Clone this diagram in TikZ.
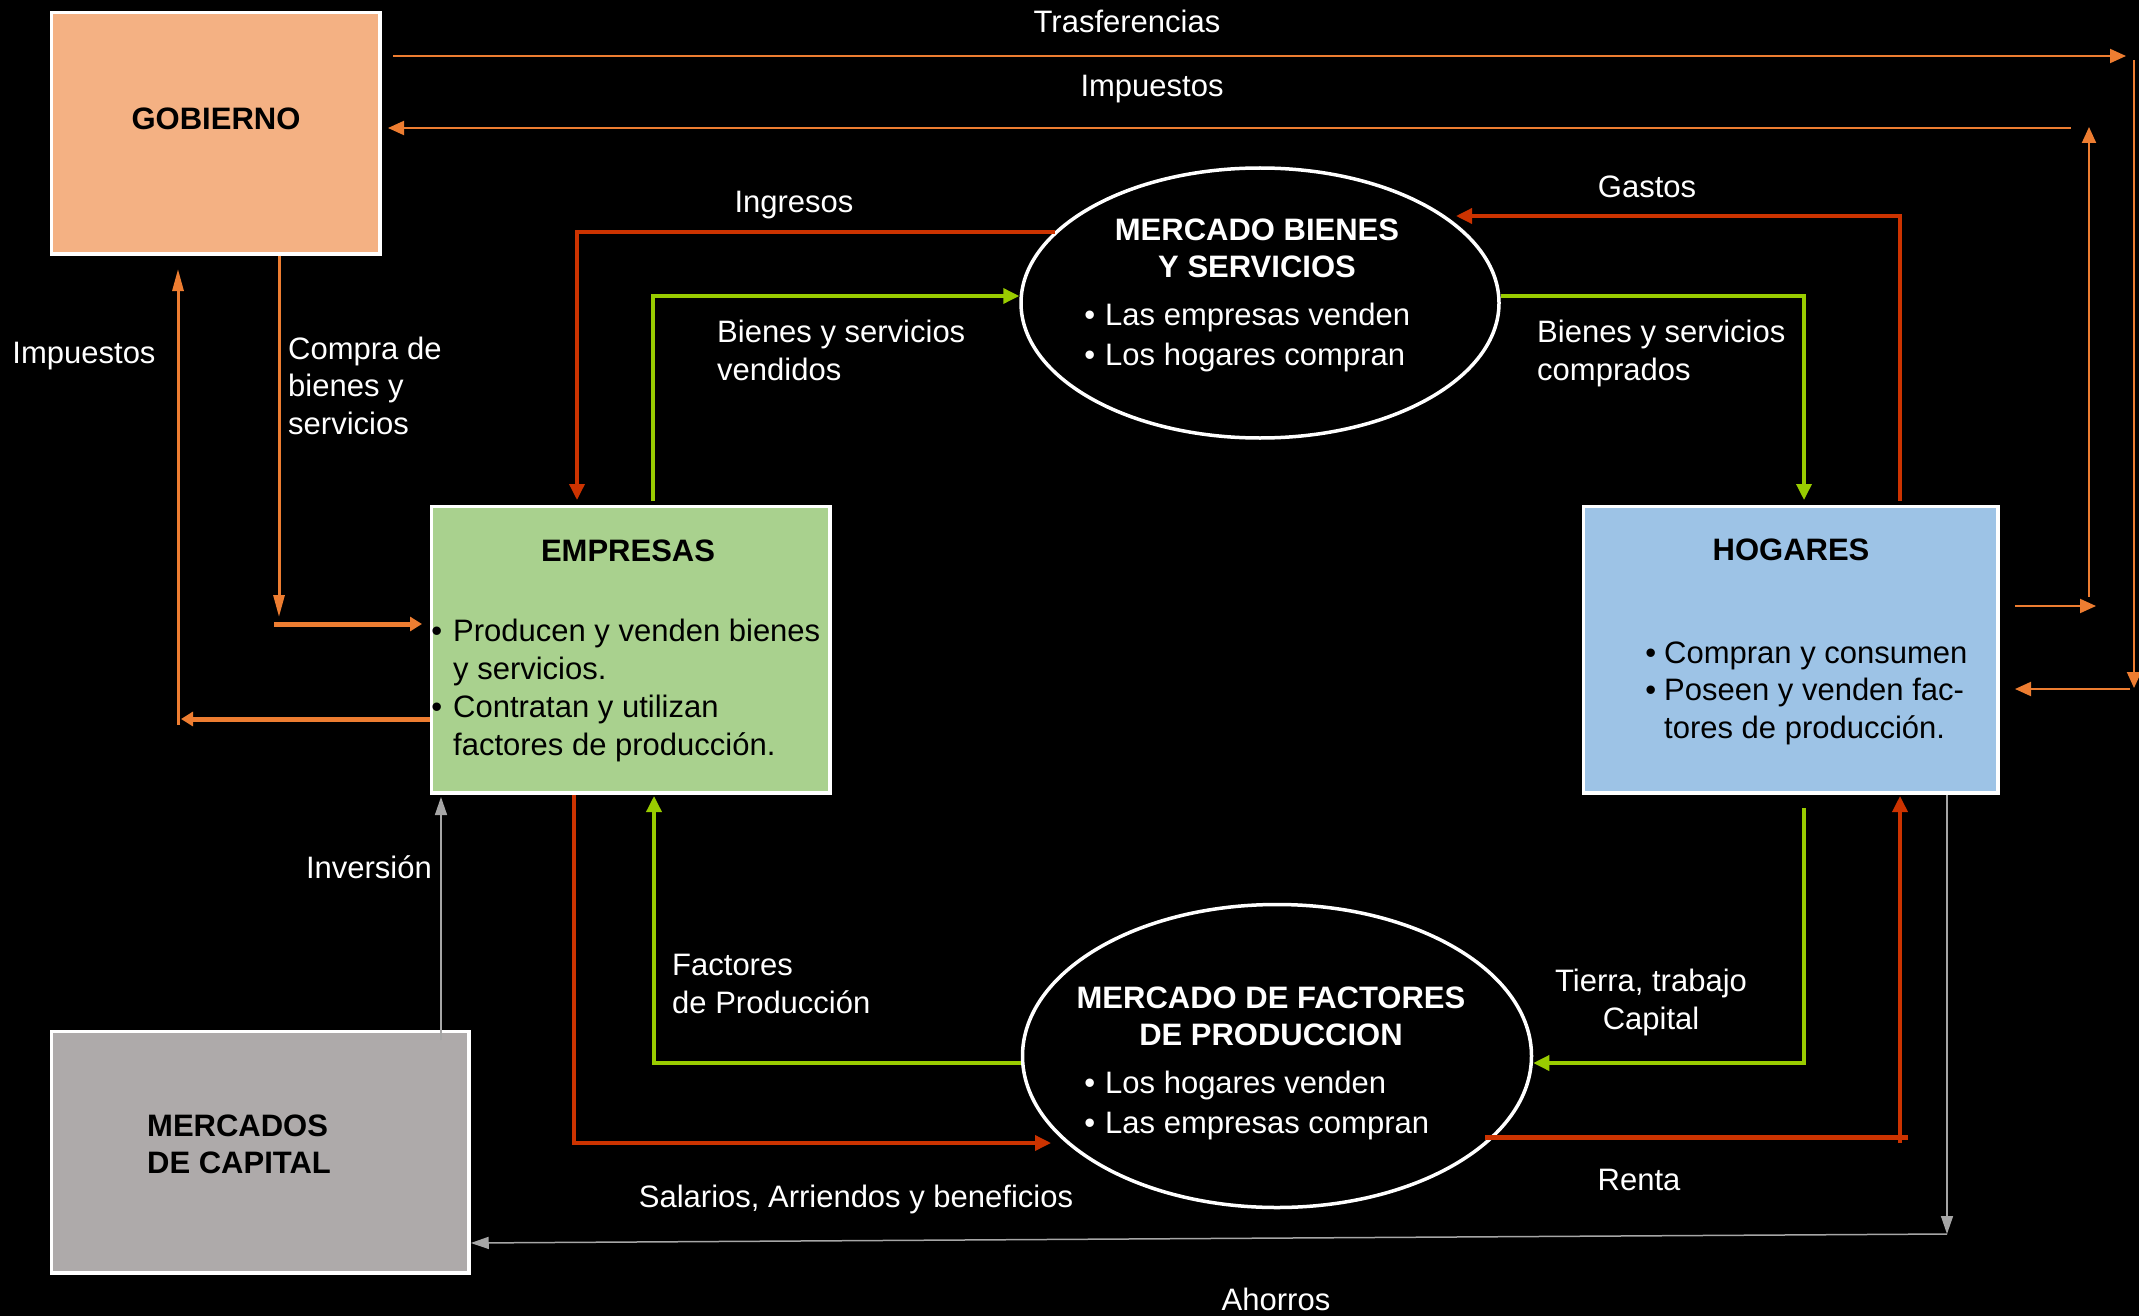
\documentclass[tikz,border=0pt]{standalone}
\usepackage{fontspec}
\setmainfont{Liberation Sans}
\usetikzlibrary{arrows.meta,shapes.geometric}
\definecolor{orng}{HTML}{ED7D31}
\definecolor{rd}{HTML}{CC3300}
\definecolor{grn}{HTML}{99CC00}
\definecolor{gry}{HTML}{A6A6A6}
\definecolor{gobfill}{HTML}{F4B183}
\definecolor{empfill}{HTML}{A9D18E}
\definecolor{hogfill}{HTML}{9DC3E6}
\definecolor{capfill}{HTML}{AEAAAA}
\begin{document}
\begin{tikzpicture}[x=1pt,y=-1pt,
  box/.style={draw=white, line width=3.5pt, anchor=north west, inner sep=0},
  mkt/.style={draw=white, line width=3.5pt, ellipse, fill=black, inner sep=0},
  lbl/.style={text=white, font=\fontsize{31}{37.5}\selectfont, inner sep=0},
  btxt/.style={text=black, font=\fontsize{31}{38}\selectfont, inner sep=0},
  ttl/.style={text=black, font=\fontsize{31}{37}\selectfont\bfseries, inner sep=0},
  wttl/.style={text=white, font=\fontsize{31}{37}\selectfont\bfseries, inner sep=0},
  oarr/.style={draw=orng, line width=2pt, -{Triangle[length=16pt,width=14pt]}},
  oarrn/.style={draw=orng, line width=3pt, -{Triangle[length=22pt,width=11pt]}},
  oarrt/.style={draw=orng, line width=5pt, -{Triangle[length=12pt,width=14pt]}},
  rarr/.style={draw=rd, line width=3.5pt, -{Triangle[length=16pt,width=15pt]}},
  garr/.style={draw=grn, line width=3.5pt, -{Triangle[length=16pt,width=15pt]}},
  yarr/.style={draw=gry, line width=1.5pt, -{Triangle[length=18pt,width=12pt]}},
]
\fill[black] (0,0) rectangle (2139,1316);
\useasboundingbox (0,0) rectangle (2139,1316);

% boxes (outer edge of the white border at the measured positions)
\node[box, fill=gobfill, minimum width=328.5, minimum height=241.5] (gob) at (49.75,10.75) {};
\node[box, fill=empfill, minimum width=398.5, minimum height=286.5] (emp) at (429.75,504.75) {};
\node[box, fill=hogfill, minimum width=414.5, minimum height=286.5] (hog) at (1581.75,504.75) {};
\node[box, fill=capfill, minimum width=417.5, minimum height=241.5] (cap) at (49.75,1029.75) {};
% markets
\node[mkt, minimum width=478, minimum height=270] (mb) at (1260,303) {};
\node[mkt, minimum width=509, minimum height=303] (mf) at (1277,1056) {};

% coordinates for connectors
\coordinate (t1) at (393,56);   \coordinate (t2) at (2126,56);
\coordinate (t3) at (2134,60);  \coordinate (t4) at (2134,688);
\coordinate (t5) at (2130,689); \coordinate (t6) at (2015,689);
\coordinate (i1) at (2015,606); \coordinate (i2) at (2096,606);
\coordinate (i3) at (2089,597); \coordinate (i4) at (2089,127);
\coordinate (i5) at (2071,128); \coordinate (i6) at (388,128);
\coordinate (ing) at (1055,232);
\coordinate (gas) at (1456,216);
\coordinate (cp1) at (274,624);
\coordinate (ip1) at (178,725);
\coordinate (tie) at (1804,808);
\coordinate (ren) at (1485,1137);
\coordinate (sal) at (1051,1143);
\coordinate (ah1) at (1947,1234);

% government flows (orange)
\draw[oarr] (t1) -- (t2);
\draw[oarr] (t3) -- (t4);
\draw[oarr] (t5) -- (t6);
\draw[oarr] (i1) -- (i2);
\draw[oarr] (i3) -- (i4);
\draw[oarr] (i5) -- (i6);
\draw[oarrn] (gob.south -| 279,0) -- (279,617);
\draw[oarrt] (cp1) -- (422,624);
\draw[oarrt] (emp.west |- 0,719) -- (181,719);
\draw[oarrn] (ip1) -- (178,269);

% goods market
\draw[rarr] (ing) -- (577,232) -- (577,500);
\draw[garr] (653,501) -- (653,296) -- (mb.west |- 0,296);
\draw[rarr] (1900,501) -- (1900,216) -- (gas);
\draw[garr] (mb.east |- 0,296) -- (1804,296) -- (1804,500);

% factor market
\draw[garr] (mf.west |- 0,1063) -- (654,1063) -- (654,796);
\draw[rarr] (574,795) -- (574,1143) -- (sal);
\draw[garr] (tie) -- (1804,1063) -- (mf.east |- 0,1063);
\draw[draw=rd, line width=5pt] (ren) -- (1908,1137);
\draw[rarr] (1900,1143) -- (1900,796);

% capital market (gray)
\draw[yarr] (1947,795) -- (ah1);
\draw[yarr] (ah1) -- (cap.east |- 0,1243);
\draw[yarr] (441,1040) -- (441,797);

% texts in boxes (multi-line nodes: base = last line)
\node[ttl, anchor=base] at (216,130) {GOBIERNO};
\node[ttl, anchor=base] at (628,561) {EMPRESAS};
\node[btxt, anchor=base west, align=left] at (453,755)
  {\llap{•\hspace{11pt}}Producen y venden bienes\\y servicios.\\\llap{•\hspace{11pt}}Contratan y utilizan\\factores de producción.};
\node[ttl, anchor=base] at (1791,560) {HOGARES};
\node[btxt, font=\fontsize{31}{37.5}\selectfont, anchor=base west, align=left] at (1664,738)
  {\llap{•\hspace{8pt}}Compran y consumen\\\llap{•\hspace{8pt}}Poseen y venden fac-\\tores de producción.};
\node[ttl, anchor=base west, align=left] at (147,1173) {MERCADOS\\DE CAPITAL};

% texts in markets
\node[wttl, anchor=base, align=center] at (1257,277) {MERCADO BIENES\\Y SERVICIOS};
\node[lbl, font=\fontsize{31}{40}\selectfont, anchor=base west, align=left] at (1105,365)
  {\llap{•\hspace{10pt}}Las empresas venden\\\llap{•\hspace{10pt}}Los hogares compran};
\node[wttl, anchor=base, align=center] at (1271,1045) {MERCADO DE FACTORES\\DE PRODUCCION};
\node[lbl, font=\fontsize{31}{40}\selectfont, anchor=base west, align=left] at (1105,1133)
  {\llap{•\hspace{10pt}}Los hogares venden\\\llap{•\hspace{10pt}}Las empresas compran};

% flow labels
\node[lbl, anchor=base] at (1127,33) {Trasferencias};
\node[lbl, anchor=base] at (1152,97) {Impuestos};
\node[lbl, anchor=base] at (794,213) {Ingresos};
\node[lbl, anchor=base] at (84,363) {Impuestos};
\node[lbl, anchor=base west, align=left] at (288,434) {Compra de\\bienes y\\servicios};
\node[lbl, anchor=base west, align=left] at (717,380) {Bienes y servicios\\vendidos};
\node[lbl, anchor=base] at (1647,198) {Gastos};
\node[lbl, anchor=base west, align=left] at (1537,380) {Bienes y servicios\\comprados};
\node[lbl, anchor=base east] at (432,878) {Inversión};
\node[lbl, anchor=base west, align=left] at (672,1013) {Factores\\de Producción};
\node[lbl, anchor=base] at (856,1207) {Salarios, Arriendos y beneficios};
\node[lbl, anchor=base, align=center] at (1651,1029) {Tierra, trabajo\\Capital};
\node[lbl, anchor=base] at (1639,1190) {Renta};
\node[lbl, anchor=base] at (1276,1310) {Ahorros};
\end{tikzpicture}
\end{document}
